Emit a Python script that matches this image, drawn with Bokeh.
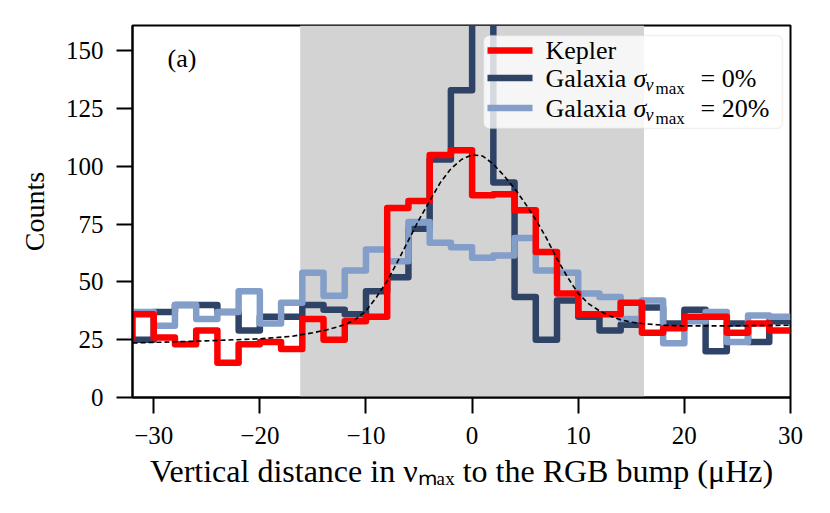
from bokeh.plotting import figure
from bokeh.models import Range1d, BoxAnnotation, Label, FixedTicker
from bokeh.embed import file_html
from bokeh.resources import INLINE

# ---------------- data ----------------
bin_edges = list(range(-34, 31, 2))          # histogram bin edges (µHz)
kepler = [26, 36, 26, 23, 29, 15, 23, 24, 21, 34, 25, 33, 35, 82, 85, 105,
          107, 87.5, 88, 81, 63, 45, 36, 36, 41, 28, 30, 35, 35, 28, 32, 29]
galaxia_0 = [25, 25, 37, 40, 40, 37, 29, 35, 35, 40, 38, 36, 46, 52, 73, 103,
             133, 175, 93, 43.5, 25, 42, 35, 29, 31.5, 39, 32, 38, 20, 32, 24, 33]
galaxia_20 = [37, 37, 31, 40, 34, 37, 46, 32, 41, 54, 44, 55, 64, 59, 76, 67,
              65, 60.5, 61.5, 69, 55, 54, 45, 43.5, 34, 42, 23.5, 33, 37, 24, 35.5, 35]
fit_x = [-32, -28, -24, -20, -17, -15, -13.5, -12, -11, -10, -9, -8, -7, -6, -5,
         -4, -3, -2, -1, 0, 1, 2, 3, 4, 5, 6, 7, 8, 9, 10, 11, 12, 13, 14, 15,
         16, 18, 20, 24, 30]
fit_y = [23.6, 24.1, 24.7, 25.4, 26.5, 28.0, 29.5, 31.5, 33.8, 37.5, 43.5, 50.5,
         59, 68, 77, 85, 93, 99, 103, 105, 104.5, 101, 96, 90.5, 84, 77, 69, 60,
         52, 45, 40.5, 37.5, 35.3, 33.6, 32.6, 32, 31.3, 31, 31, 31.3]
band = (-16.2, 16.2)
x_ticks = [-30, -20, -10, 0, 10, 20, 30]
y_ticks = [0, 25, 50, 75, 100, 125, 150]
x_lim = (-32, 30)
y_lim = (0, 161)
series_names = ["Kepler", "Galaxia", "Galaxia"]
series_sigma = [None, "= 0%", "= 20%"]
x_label = "Vertical distance in \u03bd\u2098\u2090\u2093 to the RGB bump (\u03bcHz)"
y_label = "Counts"

RED = "#ff0000"
DARK = "#2f4366"
LIGHT = "#829ec9"
FONT = "Liberation Serif"

# ---------------- geometry ----------------
W, H = 814, 497
BL, BT = 132, 25
FR, FB = 790, 397
BR, BB = W - FR, H - FB
FW, FH = FR - BL, FB - BT


def fx(px):   # picture pixel x -> data x
    return x_lim[0] + (px - BL) * (x_lim[1] - x_lim[0]) / FW


def fy(py):   # picture pixel y -> data y
    return y_lim[0] + (FB - py) * (y_lim[1] - y_lim[0]) / FH


p = figure(width=W, height=H, x_range=Range1d(*x_lim), y_range=Range1d(*y_lim),
           output_backend="svg", toolbar_location=None, title=None,
           min_border_left=BL, min_border_right=BR, min_border_top=BT,
           min_border_bottom=BB)
p.background_fill_color = "white"
p.border_fill_color = "white"
p.xgrid.visible = False
p.ygrid.visible = False
p.outline_line_color = "black"
p.outline_line_width = 2
p.outline_line_alpha = 1

for ax, ticks in ((p.xaxis, x_ticks), (p.yaxis, y_ticks)):
    ax.ticker = FixedTicker(ticks=ticks)
    ax.major_label_overrides = {t: (("\u2212" + str(abs(t))) if t < 0 else str(t)) for t in ticks}
    ax.axis_line_width = 2
    ax.axis_line_color = "black"
    ax.major_tick_line_width = 2
    ax.major_tick_line_color = "black"
    ax.major_tick_out = 16
    ax.major_tick_in = 0
    ax.minor_tick_line_color = None
    ax.major_label_text_font = FONT
    ax.major_label_text_font_size = "25px"
    ax.major_label_text_color = "black"
    ax.axis_label_text_font = FONT
    ax.axis_label_text_font_style = "normal"
    ax.axis_label_text_color = "black"

p.xaxis.major_label_standoff = 13
p.yaxis.major_label_standoff = 13
p.xaxis.axis_label = x_label
p.xaxis.axis_label_text_font_size = "32px"
p.xaxis.axis_label_align = "center"
p.xaxis.axis_label_standoff = 6
p.yaxis.axis_label = y_label
p.yaxis.axis_label_text_font_size = "28px"
p.yaxis.axis_label_standoff = 13

# shaded band
p.add_layout(BoxAnnotation(left=band[0], right=band[1], fill_color="#d3d3d3",
                           fill_alpha=1, line_color=None, level="underlay"))

# histograms (step)
for vals, col in ((galaxia_0, DARK), (galaxia_20, LIGHT), (kepler, RED)):
    p.step(x=bin_edges, y=vals + [vals[-1]], mode="after", line_color=col,
           line_width=6.5, line_join="round")

# fitted curve
p.line(fit_x, fit_y, line_color="black", line_width=1.6, line_dash="5 3")

# ---------------- legend (custom, to allow nested subscripts) ----------------
p.add_layout(BoxAnnotation(left=fx(483), right=fx(782), top=fy(35), bottom=fy(128),
                           fill_color="white", fill_alpha=0.8, line_color="#cccccc",
                           line_width=1.5, border_radius=6, level="overlay"))
row_y = [50, 77.5, 107.5]


def txt(px, py, s, size, italic=False):
    p.add_layout(Label(x=fx(px), y=fy(py), text=s, text_font=FONT,
                       text_font_style="italic" if italic else "normal",
                       text_font_size=size, text_baseline="middle",
                       text_color="black", level="overlay"))


for ry, col, name, sig in zip(row_y, (RED, DARK, LIGHT), series_names, series_sigma):
    p.add_layout(BoxAnnotation(left=fx(487), right=fx(532), top=fy(ry - 3.3),
                               bottom=fy(ry + 3.3), fill_color=col, fill_alpha=1,
                               line_color=None, level="overlay"))
    txt(545, ry, name, "26px")
    if sig:
        txt(633, ry, "\u03c3", "26px", italic=True)
        txt(645, ry + 7, "\u03bd", "18px", italic=True)
        txt(655, ry + 10, "max", "17px")
        txt(700, ry, sig, "26px")

# panel tag
txt(167, 58, "(a)", "26px")

open("out.html", "w").write(file_html(p, INLINE))
